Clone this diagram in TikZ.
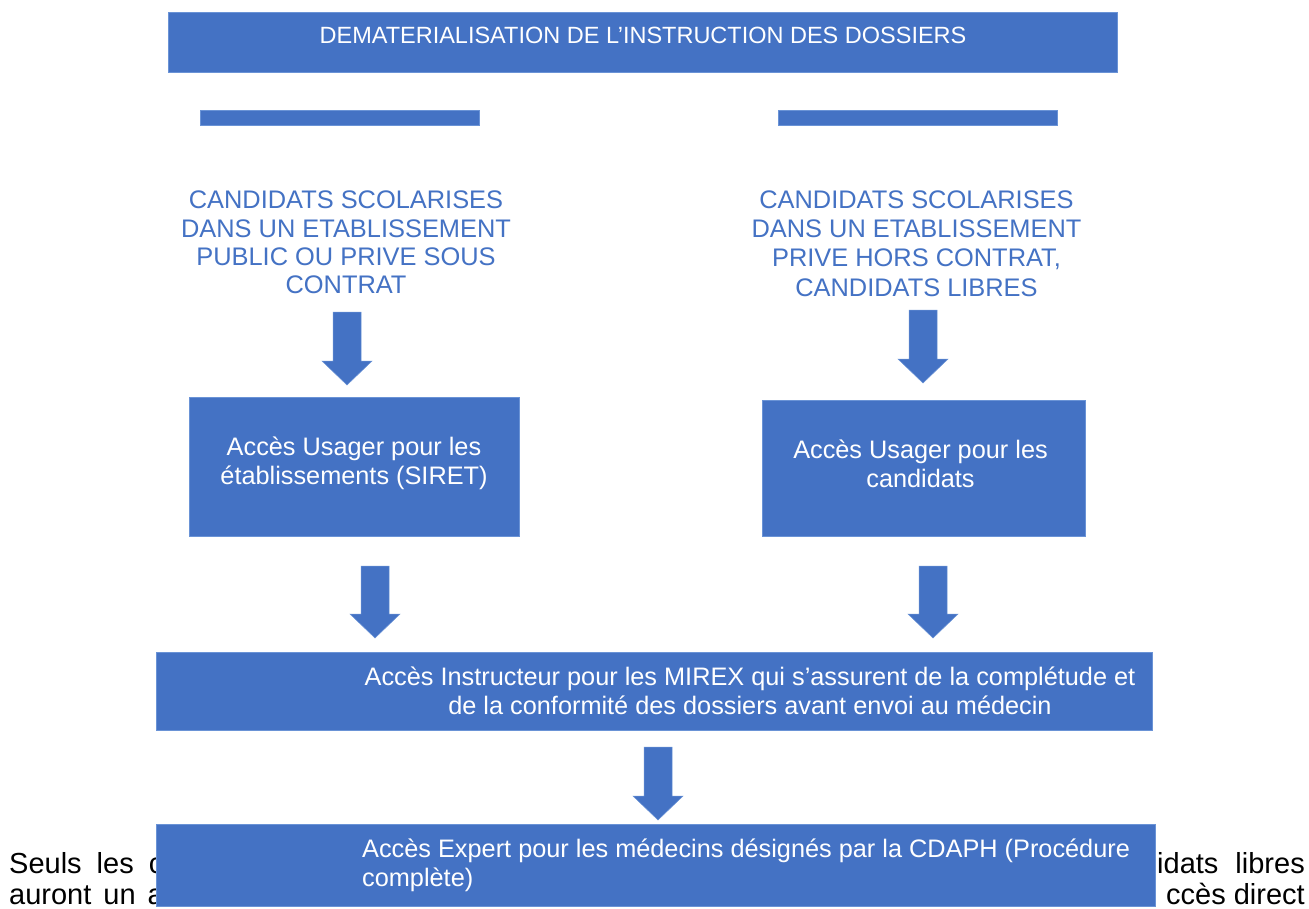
\documentclass[tikz,border=0pt]{standalone}
\usepackage{fontspec}
\setmainfont{Liberation Sans}
\definecolor{ob}{HTML}{4472C4}
\definecolor{obedge}{HTML}{6A93D6}
\tikzset{
  box/.style={fill=ob, draw=obedge, line width=0.8pt, inner sep=0pt},
  ttl/.style={text=white, font=\fontsize{23.5}{27}\selectfont, anchor=base, inner sep=0pt},
  cand/.style={text=ob, font=\fontsize{25.4}{29}\selectfont, anchor=base, inner sep=0pt},
  wtxt/.style={text=white, font=\fontsize{25.3}{29}\selectfont, anchor=base, inner sep=0pt},
  btxt/.style={text=black, font=\fontsize{29}{33}\selectfont, anchor=base, inner sep=0pt},
  arr/.style={fill=ob, draw=obedge, line width=0.5pt}
}
\newcommand\blockarr[3]{% x, ytop, ytip
  \path[arr] (#1-14,#2) -- (#1+14,#2) -- (#1+14,#3-24) -- (#1+25,#3-24) -- (#1,#3)
    -- (#1-25,#3-24) -- (#1-14,#3-24) -- cycle;}
\begin{document}
\begin{tikzpicture}[x=1pt,y=-1pt]
\useasboundingbox[fill=white] (0,0) rectangle (1309,908);

% background paragraph text (partly hidden by the last box)
\node[btxt, anchor=base west] (p1) at (9,873) {Seuls\hspace{15pt}les\hspace{15pt}c};
\node[btxt, anchor=base west] (p2) at (9,904) {auront\hspace{12pt}un\hspace{12pt}a};
\node[btxt, anchor=base east] (p3) at (1305,873) {ndidats\hspace{17pt}libres};
\node[btxt, anchor=base east] (p4) at (1305,904) {ccès direct};

% title
\node[box, minimum width=949pt, minimum height=60pt] (title) at (642.5,42) {};
\node[ttl] (titletxt) at (643,43) {DEMATERIALISATION DE L’INSTRUCTION DES DOSSIERS};

% bars
\node[box, minimum width=279pt, minimum height=15pt] (barL) at (339.5,117.5) {};
\node[box, minimum width=279pt, minimum height=15pt] (barR) at (917.5,117.5) {};

% left column heading
\node[cand] (l1) at (346,208) {CANDIDATS SCOLARISES};
\node[cand] (l2) at (346,237) {DANS UN ETABLISSEMENT};
\node[cand] (l3) at (346,265) {PUBLIC OU PRIVE SOUS};
\node[cand] (l4) at (346,293) {CONTRAT};

% right column heading
\node[cand] (r1) at (916.5,208) {CANDIDATS SCOLARISES};
\node[cand] (r2) at (916.5,237) {DANS UN ETABLISSEMENT};
\node[cand] (r3) at (916.5,266) {PRIVE HORS CONTRAT,};
\node[cand] (r4) at (916.5,296) {CANDIDATS LIBRES};

% arrows level 1
\blockarr{347}{312}{385}
\blockarr{923}{310}{383}

% usager boxes
\node[box, minimum width=330pt, minimum height=139pt] (usL) at (354,466.5) {};
\node[wtxt] (usL1) at (354,455) {Accès Usager pour les};
\node[wtxt] (usL2) at (354,484) {établissements (SIRET)};

\node[box, minimum width=323pt, minimum height=136pt] (usR) at (923.5,468) {};
\node[wtxt] (usR1) at (920.5,458) {Accès Usager pour les};
\node[wtxt] (usR2) at (920.5,487) {candidats};

% arrows level 2
\blockarr{375}{566}{638}
\blockarr{933}{566}{638}

% instructeur box
\node[box, minimum width=996pt, minimum height=78pt] (instr) at (654,691) {};
\node[wtxt] (in1) at (750,685) {Accès Instructeur pour les MIREX qui s’assurent de la complétude et};
\node[wtxt] (in2) at (750,714) {de la conformité des dossiers avant envoi au médecin};

% arrow level 3
\blockarr{658}{747}{820}

% expert box
\node[box, minimum width=999pt, minimum height=82pt] (expert) at (655.5,865) {};
\node[wtxt, anchor=base west] (ex1) at (362,857) {Accès Expert pour les médecins désignés par la CDAPH (Procédure};
\node[wtxt, anchor=base west] (ex2) at (362,886) {complète)};
\end{tikzpicture}
\end{document}
